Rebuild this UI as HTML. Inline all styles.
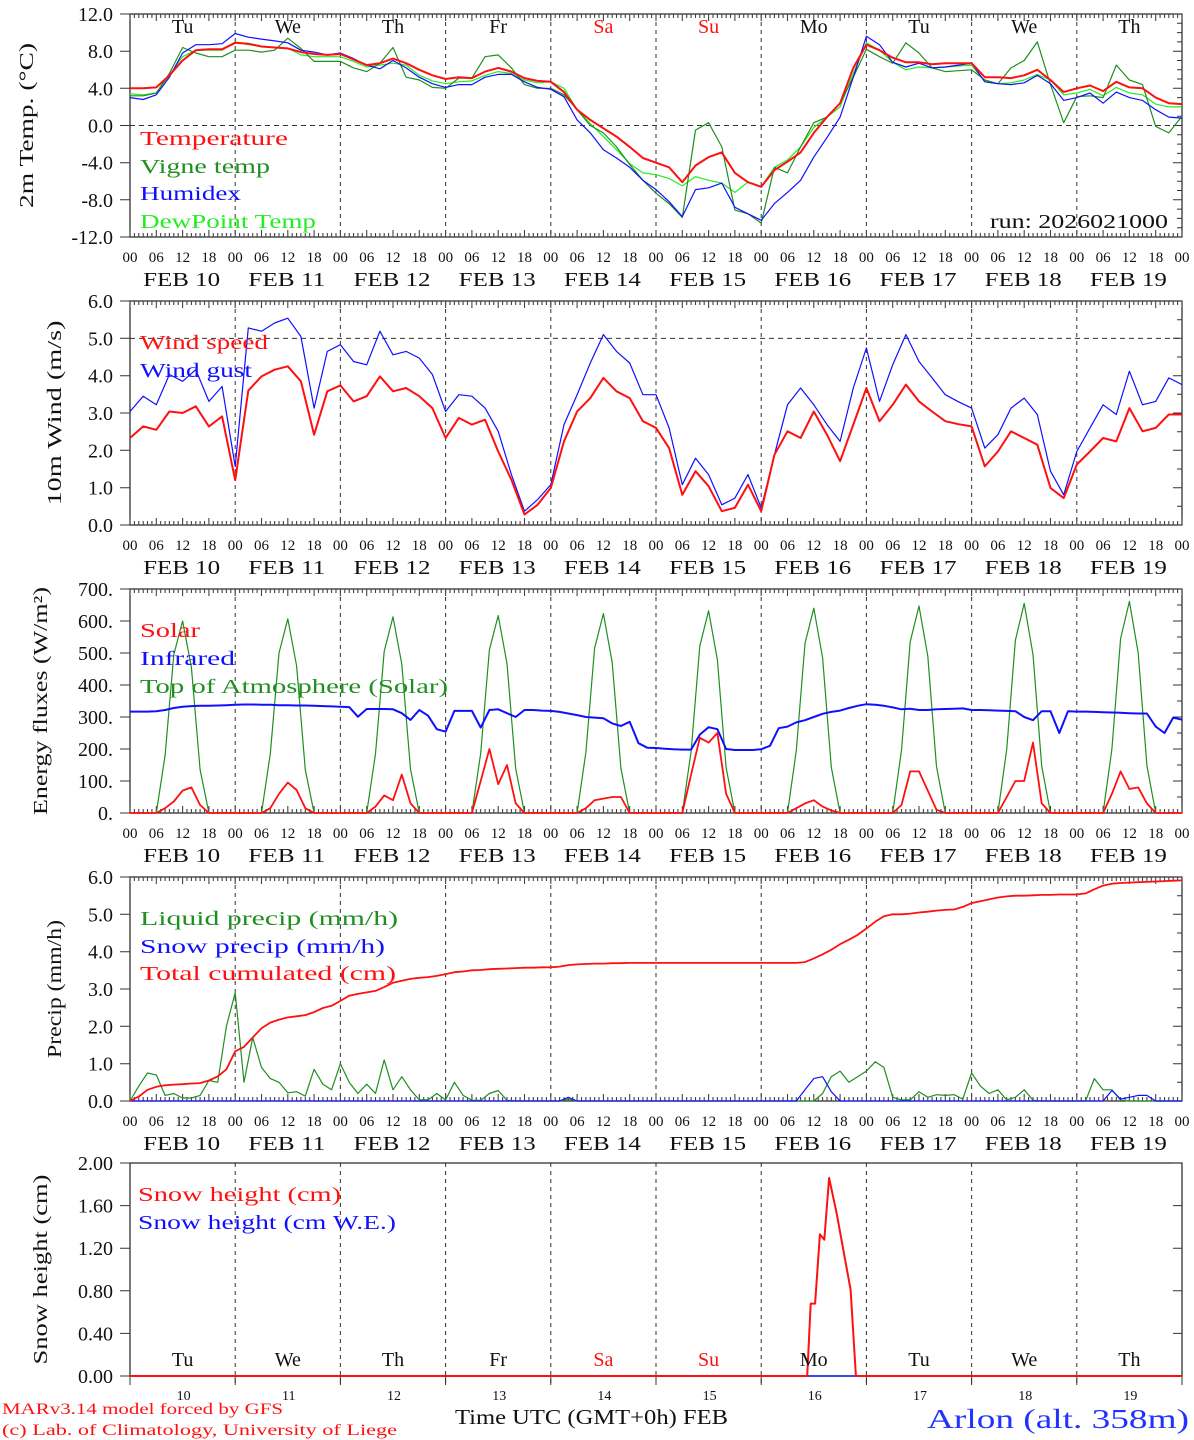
<!DOCTYPE html>
<html>
<head>
<meta charset="utf-8">
<style>
html,body{margin:0;padding:0;background:#fff;}
svg{display:block;font-family:"Liberation Serif",serif;}
</style>
</head>
<body>
<svg id="chart" xmlns="http://www.w3.org/2000/svg" width="1194" height="1440" viewBox="0 0 1194 1440">
<rect x="0" y="0" width="1194" height="1440" fill="#fff"/>
</svg>
<script>
// ---------- data (3-hourly, hour 0..240) ----------
const tempRed = [4.0,4.0,4.1,5.4,7.0,8.1,8.2,8.2, 8.9,8.8,8.5,8.4,8.3,7.9,7.7,7.6, 7.7,7.1,6.5,6.7,7.2,6.7,6.0,5.4, 5.0,5.2,5.1,5.8,6.2,5.8,5.1,4.8, 4.7,3.6,1.7,0.6,-0.3,-1.2,-2.3,-3.5,
 -4.0,-4.5,-6.1,-4.3,-3.4,-2.9,-5.1,-6.1, -6.6,-4.8,-3.9,-2.9,-0.8,0.9,2.4,6.2, 8.7,8.1,7.3,6.8,6.8,6.6,6.7,6.7,6.7, 5.2,5.2,5.1,5.4,6.0,4.9,3.6,4.0, 4.3,3.7,4.7,4.1,4.0,3.0,2.4,2.3];
const tempVigne = [3.2,3.2,3.5,5.6,8.4,7.8,7.4,7.4, 8.1,8.1,7.9,8.1,9.4,8.3,6.9,6.9, 6.9,6.2,5.8,6.7,8.4,5.2,4.9,4.1, 4.0,5.1,5.1,7.4,7.6,6.2,4.4,4.0, 4.0,3.3,1.7,0.0,-0.8,-2.3,-4.2,-5.9,
 -7.3,-8.4,-9.9,-0.5,0.3,-2.3,-9.1,-9.5, -10.5,-4.5,-5.1,-2.3,0.3,0.9,2.4,5.2, 8.2,7.4,6.7,8.9,7.8,6.2,5.8,5.9,6.0, 4.9,4.5,6.2,7.0,9.0,4.4,0.3,3.1, 3.2,3.0,6.5,4.9,4.4,-0.1,-0.8,1.0];
const tempHumidex = [3.0,2.8,3.3,5.2,7.8,8.7,8.7,8.8, 9.9,9.5,9.3,9.1,8.9,8.1,7.9,7.6, 7.8,7.2,6.5,6.1,7.0,6.2,5.2,4.5, 4.1,4.4,4.4,5.2,5.5,5.5,4.7,4.1, 3.9,3.1,0.6,-0.8,-2.6,-3.5,-4.5,-5.9,
 -6.9,-8.2,-9.8,-6.9,-6.7,-6.2,-8.8,-9.5, -10.2,-8.4,-7.2,-5.9,-3.4,-1.3,0.9,5.2, 9.6,8.7,6.8,6.3,6.7,6.2,6.3,6.5,6.7, 4.7,4.5,4.4,4.6,5.4,4.5,2.7,3.0, 3.5,2.4,3.6,3.0,2.7,1.7,0.9,0.8];
const tempDew = [3.4,3.3,3.5,5.4,7.4,8.1,8.1,8.1, 9.0,8.7,8.5,8.4,8.3,7.6,7.4,7.4, 7.4,6.9,6.3,6.5,6.7,6.5,5.4,4.8, 4.5,4.7,4.8,5.4,5.8,5.6,4.9,4.6, 4.7,4.0,1.7,0.2,-1.2,-2.6,-4.1,-5.1,
 -5.3,-5.7,-6.5,-5.5,-5.9,-6.2,-7.2,-6.1, -6.6,-4.5,-3.7,-2.3,-0.2,0.9,2.0,5.6, 8.9,8.1,6.8,6.0,6.3,6.2,6.3,6.4,6.5, 4.7,4.5,4.6,4.9,5.5,4.9,3.3,3.5, 3.9,3.2,4.1,3.5,3.3,2.3,2.0,2.0];
const windSpeed = [2.33,2.64,2.55,3.04,3.0,3.18,2.64,2.91, 1.2,3.6,3.98,4.16,4.25,3.85,2.42,3.58, 3.74,3.31,3.45,3.98,3.58,3.67,3.45,3.13, 2.33,2.87,2.69,2.82,1.97,1.21,0.28,0.54, 0.99,2.24,3.04,3.4,3.94,3.58,3.4,2.78,
 2.6,2.06,0.81,1.44,1.04,0.37,0.46,1.08, 0.37,1.88,2.51,2.33,3.04,2.42,1.71,2.69, 3.67,2.78,3.22,3.76,3.31,3.04,2.78,2.7,2.64, 1.57,1.97,2.51,2.33,2.15,0.99,0.72,1.62, 1.97,2.33,2.24,3.13,2.51,2.6,2.96,2.96];
const windGust = [3.04,3.45,3.22,4.03,3.85,4.16,3.31,3.71, 1.57,5.28,5.19,5.41,5.54,5.05,3.13,4.65, 4.83,4.38,4.29,5.19,4.56,4.65,4.47,4.03, 3.04,3.49,3.45,3.13,2.51,1.35,0.37,0.68, 1.08,2.69,3.49,4.34,5.1,4.65,4.34,3.49,
 3.49,2.6,1.08,1.79,1.35,0.54,0.72,1.35, 0.46,1.88,3.22,3.67,3.22,2.69,2.24,3.67, 4.74,3.31,4.29,5.1,4.38,3.94,3.49,3.3,3.13, 2.06,2.42,3.13,3.4,2.96,1.44,0.81,1.97, 2.6,3.22,2.96,4.12,3.22,3.31,3.94,3.76];
// ---------- data (2-hourly, hour 0..240) ----------
const solarFlux = [0,0,0,0,15,36,70,80,25,0,0,0, 0,0,0,0,15,60,95,72,15,0,0,0, 0,0,0,0,20,55,40,120,30,0,0,0, 0,0,0,0,100,200,90,150,30,0,0,0, 0,0,0,0,15,40,45,50,50,0,0,0,
 0,0,0,0,120,235,220,250,60,0,0,0, 0,0,0,0,15,30,40,20,8,0,0,0, 0,0,0,0,25,130,130,70,10,0,0,0, 0,0,0,0,50,100,100,220,30,0,0,0, 0,0,0,0,60,130,75,80,30,0,0,0, 0];
const infraredFlux = [317,317,317,318,322,328,332,334,335,335,336,337, 338,339,339,338,338,337,337,336,336,335,334,333, 332,331,301,325,325,325,324,312,291,322,304,262, 254,319,319,319,267,322,324,312,300,322,322,320, 319,316,311,306,300,298,296,280,272,285,218,204,
 203,201,199,198,198,245,268,262,200,197,197,197, 199,210,265,270,283,290,300,310,316,320,328,335, 340,338,335,330,324,326,322,322,324,325,326,327, 322,322,321,320,319,318,300,290,318,318,250,318, 317,317,316,315,314,313,312,311,311,270,250,298, 292];
const toaFlux = [0,0,0,0,180,495,600,455,135,0,0,0, 0,0,0,0,185,500,607,460,135,0,0,0, 0,0,0,0,185,505,613,465,137,0,0,0, 0,0,0,0,187,510,617,467,138,0,0,0, 0,0,0,0,190,515,623,470,140,0,0,0,
 0,0,0,0,192,522,632,478,142,0,0,0, 0,0,0,0,195,530,640,485,143,0,0,0, 0,0,0,0,196,535,647,490,145,0,0,0, 0,0,0,0,198,540,655,495,147,0,0,0, 0,0,0,0,200,545,661,500,148,0,0,0, 0];
const liquidPrecip = [0,0.4,0.75,0.7,0.15,0.2,0.08,0.08,0.15,0.55,0.5,2.0, 2.9,0.5,1.7,0.9,0.6,0.5,0.22,0.25,0.13,0.85,0.45,0.3, 1.0,0.5,0.2,0.45,0.2,1.1,0.3,0.65,0.3,0.03,0.03,0.2, 0.03,0.5,0.15,0.02,0.02,0.2,0.28,0.02,0,0,0,0, 0,0,0.05,0,0,0,0,0,0,0,0,0,
 0,0,0,0,0,0,0,0,0,0,0,0, 0,0,0,0,0,0,0,0.2,0.65,0.8,0.5,0.65, 0.8,1.05,0.9,0.1,0.03,0.03,0.25,0.1,0.17,0.15,0.17,0.05, 0.75,0.4,0.2,0.3,0.03,0.1,0.3,0.02,0,0,0,0, 0,0,0.6,0.3,0.3,0.02,0,0,0,0,0,0, 0];
const snowPrecip = [0,0,0,0,0,0,0,0,0,0,0,0, 0,0,0,0,0,0,0,0,0,0,0,0, 0,0,0,0,0,0,0,0,0,0,0,0, 0,0,0,0,0,0,0,0,0,0,0,0, 0,0,0.1,0,0,0,0,0,0,0,0,0,
 0,0,0,0,0,0,0,0,0,0,0,0, 0,0,0,0,0,0.3,0.6,0.65,0.25,0,0,0, 0,0,0,0,0,0,0,0,0,0,0,0, 0,0,0,0,0,0,0,0,0,0,0,0, 0,0,0,0,0.28,0.05,0.1,0.15,0.15,0,0,0, 0];
const cumulPrecip = [0,0.12,0.3,0.38,0.42,0.44,0.45,0.47,0.48,0.55,0.66,0.85, 1.33,1.45,1.7,1.95,2.1,2.18,2.24,2.27,2.3,2.38,2.49,2.55, 2.68,2.82,2.87,2.91,2.95,3.05,3.17,3.22,3.27,3.3,3.32,3.35, 3.4,3.45,3.47,3.5,3.51,3.53,3.54,3.55,3.56,3.57,3.57,3.58, 3.58,3.6,3.64,3.66,3.67,3.68,3.68,3.69,3.69,3.7,3.7,3.7,
 3.7,3.7,3.7,3.7,3.7,3.7,3.7,3.7,3.7,3.7,3.7,3.7, 3.7,3.7,3.7,3.7,3.7,3.72,3.82,3.93,4.05,4.2,4.32,4.45, 4.62,4.8,4.95,5.0,5.0,5.02,5.05,5.07,5.1,5.12,5.13,5.2, 5.3,5.35,5.4,5.45,5.48,5.5,5.5,5.51,5.52,5.52,5.53,5.53, 5.53,5.56,5.67,5.77,5.82,5.84,5.85,5.86,5.87,5.88,5.89,5.9, 5.91];
// snow height: sparse (hour, value)
const snowHours = [0,154.5,155.3,156.3,157.4,158.4,159.5,161.2,164.4,165.6,240];
const snowHeight = [0,0,0.68,0.68,1.33,1.28,1.86,1.53,0.81,0,0];
const snowWE = [0,0,0,0,0,0,0,0,0,0,0];
// ---------- labels ----------
const dayNames = ['Tu','We','Th','Fr','Sa','Su','Mo','Tu','We','Th'];
const dayDates = ['10','11','12','13','14','15','16','17','18','19'];
const hourLabels = ['00','06','12','18'];
const tempTicks = [-12,-8,-4,0,4,8,12];
const windTicks = [0,1,2,3,4,5,6];
const energyTicks = [0,100,200,300,400,500,600,700];
const precipTicks = [0,1,2,3,4,5,6];
const snowTicks = [0,0.4,0.8,1.2,1.6,2.0];

// ---------- drawing ----------
const NS = 'http://www.w3.org/2000/svg';
const svg = document.getElementById('chart');
function mk(tag, attrs, parent){
  const e = document.createElementNS(NS, tag);
  for (const k in attrs) e.setAttribute(k, attrs[k]);
  (parent || svg).appendChild(e);
  return e;
}
const X0 = 130, X1 = 1182;
function xH(h){ return X0 + h * (X1 - X0) / 240; }
function yScale(p){ return v => p.bottom - (v - p.min) * (p.bottom - p.top) / (p.max - p.min); }

const pTemp = {name:'temp', top:14, bottom:237, min:-12, max:12};
const pWind = {name:'wind', top:301, bottom:525, min:0, max:6};
const pEnergy = {name:'energy', top:589, bottom:813, min:0, max:700};
const pPrecip = {name:'precip', top:877, bottom:1101, min:0, max:6};
const pSnow = {name:'snow', top:1163, bottom:1376, min:0, max:2};

function frame(p, ticks, fmt, title, titleX, titleLen, minorStep, hatched){
  const g = mk('g', {});
  
  
  const y = yScale(p);
  for (let d = 1; d < 10; d++){
    const l = mk('line', {x1:xH(d*24), x2:xH(d*24), y1:p.top, y2:p.bottom + (hatched?0:9), stroke:'#333', 'stroke-width':1, 'stroke-dasharray':'4,4'}, g);
    
    
  }
  const r = mk('rect', {x:X0, y:p.top, width:X1-X0, height:p.bottom-p.top, fill:'none', stroke:'#222', 'stroke-width':1.2}, g);
  
  
  if (hatched){
    let dstr = '';
    for (let h = 0; h <= 240; h++){
      const len = (h % 6 === 0) ? 7 : 4;
      const x = xH(h).toFixed(1);
      dstr += `M${x},${p.top}v${len}M${x},${p.bottom}v${-len}`;
    }
    const t = mk('path', {d:dstr, stroke:'#444', 'stroke-width':1.1, fill:'none'}, g);
    
    
  } else {
    for (let d = 0; d <= 10; d++){
      const t = mk('line', {x1:xH(d*24), x2:xH(d*24), y1:p.bottom, y2:p.bottom+9, stroke:'#333', 'stroke-width':1}, g);
      
      
    }
  }
  let yd = '';
  for (let v = p.min; v <= p.max + 1e-9; v += minorStep){
    const yy = y(v).toFixed(1);
    yd += `M${X1},${yy}h-5`;
  }
  ticks.forEach(v => {
    const yy = y(v).toFixed(1);
    yd += `M${X0-10},${yy}h10M${X1},${yy}h-9`;
  });
  const yt = mk('path', {d:yd, stroke:'#333', 'stroke-width':1, fill:'none'}, g);
  
  
  ticks.forEach(v => {
    const t = mk('text', {x:113, y:y(v)+7, 'font-size':20, 'text-anchor':'end', fill:'#111'}, g);
    
    
    t.textContent = fmt(v);
  });
  const ty = (p.top + p.bottom) / 2;
  const tt = mk('text', {x:titleX, y:ty, 'font-size':20, 'text-anchor':'middle', fill:'#111', textLength:titleLen, lengthAdjust:'spacingAndGlyphs', transform:`rotate(-90 ${titleX} ${ty})`}, g);
  
  
  tt.textContent = title;
  return g;
}

function hourAxis(p){
  const g = mk('g', {});
  
  
  for (let d = 0; d < 10; d++){
    hourLabels.forEach((lab, k) => {
      const t = mk('text', {x:xH(d*24 + k*6), y:p.bottom+25, 'font-size':15, 'text-anchor':'middle', fill:'#111'}, g);
      
      
      t.textContent = lab;
    });
    const dt = mk('text', {x:xH(d*24 + 12) - 1, y:p.bottom+49, 'font-size':20, 'text-anchor':'middle', fill:'#111', textLength:77, lengthAdjust:'spacingAndGlyphs'}, g);
    
    
    dt.textContent = 'FEB ' + dayDates[d];
  }
  const t = mk('text', {x:xH(240), y:p.bottom+25, 'font-size':15, 'text-anchor':'middle', fill:'#111'}, g);
  
  
  t.textContent = hourLabels[0];
}

function hline(p, v){
  const y = yScale(p);
  const l = mk('line', {x1:X0, x2:X1, y1:y(v), y2:y(v), stroke:'#333', 'stroke-width':1, 'stroke-dasharray':'5,4'});
  
  
}

function series(p, arr, stepH, color, width, name){
  const y = yScale(p);
  const pts = arr.map((v, i) => xH(i*stepH).toFixed(1) + ',' + y(v).toFixed(1)).join(' ');
  const l = mk('polyline', {points:pts, fill:'none', stroke:color, 'stroke-width':width, 'stroke-linejoin':'round'});
  
  
}
function seriesXY(p, hours, arr, color, width, name){
  const y = yScale(p);
  const pts = arr.map((v, i) => xH(hours[i]).toFixed(1) + ',' + y(v).toFixed(1)).join(' ');
  const l = mk('polyline', {points:pts, fill:'none', stroke:color, 'stroke-width':width, 'stroke-linejoin':'round'});
  
  
}
function label(x, y, txt, color, size, name, len, anchor){
  const a = {x:x, y:y, 'font-size':size, fill:color};
  if (len) { a.textLength = len; a.lengthAdjust = 'spacingAndGlyphs'; }
  if (anchor) a['text-anchor'] = anchor;
  const t = mk('text', a);
  
  
  t.textContent = txt;
  return t;
}

const RED = '#ff1010', GREEN = '#1f8f1f', LIME = '#22ee22', BLUE = '#1010ff';

// Panel 1: temperature
frame(pTemp, tempTicks, v => v.toFixed(1), '2m Temp. (°C)', 33, 165, 1, true);
hline(pTemp, 0);
series(pTemp, tempDew, 3, LIME, 1.2, 'dewpoint-temp-line');
series(pTemp, tempVigne, 3, GREEN, 1.2, 'vigne-temp-line');
series(pTemp, tempHumidex, 3, BLUE, 1.2, 'humidex-line');
series(pTemp, tempRed, 3, RED, 2, 'temperature-line');
dayNames.forEach((dn, d) => {
  label(xH(d*24+12), 33, dn, (dn==='Sa'||dn==='Su') ? RED : '#111', 20, 'weekday-label', null, 'middle');
});
label(140, 145, 'Temperature', RED, 20, 'legend-temperature', 148);
label(140, 173, 'Vigne temp', GREEN, 20, 'legend-vigne-temp', 130);
label(140, 200, 'Humidex', BLUE, 20, 'legend-humidex', 101);
label(140, 228, 'DewPoint Temp', LIME, 20, 'legend-dewpoint-temp', 176);
label(990, 228, 'run: 2026021000', '#111', 20, 'run-label', 178);
hourAxis(pTemp);

// Panel 2: wind
frame(pWind, windTicks, v => v.toFixed(1), '10m Wind (m/s)', 61, 185, 0.5, true);
hline(pWind, 5);
series(pWind, windGust, 3, BLUE, 1.2, 'wind-gust-line');
series(pWind, windSpeed, 3, RED, 2, 'wind-speed-line');
label(140, 349, 'Wind speed', RED, 20, 'legend-wind-speed', 128);
label(140, 377, 'Wind gust', BLUE, 20, 'legend-wind-gust', 112);
hourAxis(pWind);

// Panel 3: energy
frame(pEnergy, energyTicks, v => v.toFixed(0) + '.', 'Energy fluxes (W/m²)', 47, 228, 50, true);
series(pEnergy, toaFlux, 2, GREEN, 1.2, 'toa-solar-line');
series(pEnergy, infraredFlux, 2, BLUE, 2, 'infrared-line');
series(pEnergy, solarFlux, 2, RED, 1.8, 'solar-line');
label(140, 637, 'Solar', RED, 20, 'legend-solar', 60);
label(140, 665, 'Infrared', BLUE, 20, 'legend-infrared', 95);
label(140, 693, 'Top of Atmosphere (Solar)', GREEN, 20, 'legend-toa-solar', 308);
hourAxis(pEnergy);

// Panel 4: precip
frame(pPrecip, precipTicks, v => v.toFixed(1), 'Precip (mm/h)', 61, 138, 0.5, true);
series(pPrecip, liquidPrecip, 2, GREEN, 1.2, 'liquid-precip-line');
series(pPrecip, snowPrecip, 2, BLUE, 1.2, 'snow-precip-line');
series(pPrecip, cumulPrecip, 2, RED, 1.8, 'total-cumulated-line');
label(140, 925, 'Liquid precip (mm/h)', GREEN, 20, 'legend-liquid-precip', 258);
label(140, 953, 'Snow precip (mm/h)', BLUE, 20, 'legend-snow-precip', 245);
label(140, 980, 'Total cumulated (cm)', RED, 20, 'legend-total-cumulated', 256);
hourAxis(pPrecip);

// Panel 5: snow height
frame(pSnow, snowTicks, v => v.toFixed(2), 'Snow height (cm)', 47, 190, 2, false);
seriesXY(pSnow, snowHours, snowWE, BLUE, 1.5, 'snow-height-we-line');
seriesXY(pSnow, snowHours, snowHeight, RED, 2, 'snow-height-line');
label(138, 1201, 'Snow height (cm)', RED, 20, 'legend-snow-height', 203);
label(138, 1229, 'Snow height (cm W.E.)', BLUE, 20, 'legend-snow-height-we', 258);
dayNames.forEach((dn, d) => {
  label(xH(d*24+12), 1366, dn, (dn==='Sa'||dn==='Su') ? RED : '#111', 20, 'weekday-label-bottom', null, 'middle');
  label(xH(d*24+12)+1, 1400, dayDates[d], '#111', 14, 'day-number-label', null, 'middle');
});
label(455, 1424, 'Time UTC (GMT+0h) FEB', '#111', 21, 'x-axis-title', 273);
label(2, 1414, 'MARv3.14 model forced by GFS', RED, 16, 'model-credit', 281);
label(2, 1435, '(c) Lab. of Climatology, University of Liege', RED, 16, 'copyright-credit', 395);
label(927, 1428, 'Arlon (alt. 358m)', '#2233ff', 27, 'station-title', 262);
</script>
</body>
</html>
